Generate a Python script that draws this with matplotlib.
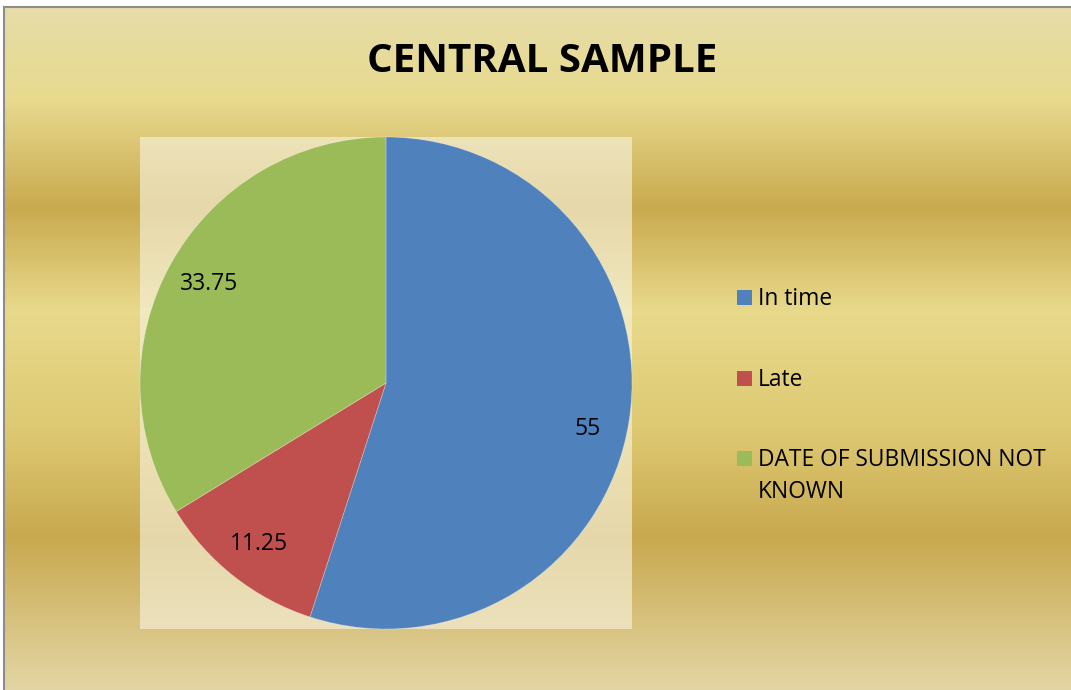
import numpy as np
import matplotlib
matplotlib.use("Agg")
import matplotlib.pyplot as plt
from matplotlib.colors import LinearSegmentedColormap
from matplotlib.patches import Rectangle

labels = ["In time", "Late", "DATE OF SUBMISSION NOT\nKNOWN"]
values = [55, 11.25, 33.75]
value_texts = ["55", "11.25", "33.75"]
colors = ["#4F81BD", "#C0504D", "#9BBB59"]
title = "CENTRAL SAMPLE"

W, H = 1071, 690
fig = plt.figure(figsize=(W / 100, H / 100), dpi=100)
fig.patch.set_facecolor("white")

# background gradient (gold preset)
bg = fig.add_axes([0, 0, 1, 1], zorder=0)
bg.set_axis_off()
stops = [(0.0, (0.902, 0.867, 0.667)),
         (0.14, (0.910, 0.855, 0.560)),
         (0.30, (0.788, 0.667, 0.310)),
         (0.45, (0.910, 0.851, 0.545)),
         (0.62, (0.870, 0.790, 0.450)),
         (0.78, (0.784, 0.663, 0.310)),
         (1.0, (0.890, 0.835, 0.640))]
cmap = LinearSegmentedColormap.from_list("gold", stops)
grad = np.linspace(0, 1, 400).reshape(-1, 1)
bg.imshow(grad, aspect="auto", cmap=cmap, extent=[0, 1, 0, 1], origin="upper")
bg.set_xlim(0, 1)
bg.set_ylim(0, 1)
# white margin and grey border
bg.add_patch(Rectangle((0, 1 - 6 / H), 1, 6 / H, color="white", zorder=2))
bg.add_patch(Rectangle((0, 0), 3 / W, 1, color="white", zorder=2))
bg.plot([4 / W, 4 / W], [0, 1 - 7 / H], color="#8c8c8c", lw=1.5, zorder=3)
bg.plot([4 / W, 1], [1 - 7 / H, 1 - 7 / H], color="#8c8c8c", lw=1.5, zorder=3)

# plot area light overlay
px0, py0, pw = 140, 137, 492
bg.add_patch(Rectangle((px0 / W, 1 - (py0 + pw) / H), pw / W, pw / H,
                       facecolor=(0.965, 0.945, 0.86), alpha=0.65, edgecolor="none", zorder=1))

ax = fig.add_axes([px0 / W, 1 - (py0 + pw) / H, pw / W, pw / H], zorder=2)
ax.set_facecolor("none")
wedges, _ = ax.pie(values, colors=colors, startangle=90, counterclock=False,
                   radius=1.0, wedgeprops=dict(linewidth=0.6, edgecolor=(1, 1, 1, 0.3)))
ax.set_xlim(-1, 1)
ax.set_ylim(-1, 1)
ax.set_aspect("equal")
ax.set_axis_off()

font = ["Open Sans", "DejaVu Sans"]
# value labels placed near each wedge's mid-angle
label_r = [0.84, 0.835, 0.823]
angle_shift = [-3.8, 0.0, 0.0]
start = 90.0
total = sum(values)
for v, t, r, s in zip(values, value_texts, label_r, angle_shift):
    ang = start - v / total * 360 / 2 + s
    start -= v / total * 360
    x = r * np.cos(np.radians(ang))
    y = r * np.sin(np.radians(ang))
    ax.text(x, y, t, ha="center", va="center", fontsize=16.5, family=font, color="black")

fig.text(542 / W, 1 - 61 / H, title, ha="center", va="center",
         fontsize=29, fontweight="bold", family=font, color="black")

# legend
marker_y = [297.5, 378, 458]
for lab, c, y in zip(labels, colors, marker_y):
    bg.add_patch(Rectangle((737 / W, 1 - (y + 7.5) / H), 15 / W, 15 / H,
                           facecolor=c, edgecolor="none", zorder=3))
    for i, line in enumerate(lab.split("\n")):
        base = y + 7.5 + i * 33
        fig.text(758 / W, 1 - base / H, line, ha="left", va="baseline",
                 fontsize=16.4, family=font, color="black")

fig.savefig("out.png", dpi=100, facecolor=fig.get_facecolor())
